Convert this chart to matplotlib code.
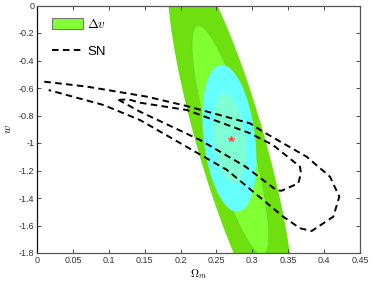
import numpy as np
import matplotlib
matplotlib.use("Agg")
import matplotlib.pyplot as plt
from matplotlib.patches import Patch
from matplotlib.lines import Line2D

plt.rcParams['font.family'] = ['Liberation Sans', 'DejaVu Sans']
plt.rcParams['mathtext.fontset'] = 'cm'

# Delta v ellipses (Gaussian approx): center, sigma along w, sigma across, slope dOm/dw
dv_center = (0.2694, -0.98)
dv_sig_w = 0.55
dv_sig_x = 0.0197
dv_slope = -0.0532

# combined ellipses
cb_center = (0.268, -0.966)
cb_sig_w = 0.215
cb_sig_x = 0.0145
cb_slope = -0.020

chi2_levels = [2.30, 6.17]  # 1 sigma, 2 sigma

best_fit = (0.27, -0.97)

# SN contours (Omega_m, w)
sn_outer_om = [0.0102, 0.0697, 0.1532, 0.2086, 0.2967, 0.3149, 0.3757, 0.4082, 0.4212,
               0.4128, 0.3827, 0.3664, 0.3431, 0.2647, 0.2229, 0.1435, 0.0929, 0.0163]
sn_outer_w = [-0.554, -0.590, -0.663, -0.731, -0.857, -0.918, -1.100, -1.245, -1.390,
              -1.536, -1.640, -1.620, -1.536, -1.196, -1.071, -0.833, -0.724, -0.615]

sn_inner_om = [0.1138, 0.127, 0.1435, 0.2086, 0.2967, 0.3288, 0.3664, 0.3678, 0.364,
               0.3409, 0.334, 0.29, 0.2271, 0.1435, 0.1138]
sn_inner_w = [-0.687, -0.682, -0.707, -0.760, -0.929, -1.015, -1.172, -1.220, -1.293,
              -1.347, -1.345, -1.17, -0.978, -0.772, -0.687]

xticks = [0, 0.05, 0.1, 0.15, 0.2, 0.25, 0.3, 0.35, 0.4, 0.45]
yticks = [0, -0.2, -0.4, -0.6, -0.8, -1, -1.2, -1.4, -1.6, -1.8]


def ellipse(center, sig_w, sig_x, slope, k):
    t = np.linspace(0, 2 * np.pi, 300)
    dw = sig_w * np.sqrt(k) * np.sin(t)
    dx = slope * dw + sig_x * np.sqrt(k) * np.cos(t)
    return center[0] + dx, center[1] + dw


fig = plt.figure(figsize=(3.74, 2.81), dpi=100)
ax = fig.add_axes([37 / 374, 1 - 253 / 281, 323 / 374, 247.5 / 281])

x, y = ellipse(dv_center, dv_sig_w, dv_sig_x, dv_slope, chi2_levels[1])
ax.fill(x, y, color='#6EE010', lw=0)
x, y = ellipse(dv_center, dv_sig_w, dv_sig_x, dv_slope, chi2_levels[0])
ax.fill(x, y, facecolor='#80FF33', edgecolor='#66D820', lw=0.6)
x, y = ellipse(cb_center, cb_sig_w, cb_sig_x, cb_slope, chi2_levels[1])
ax.fill(x, y, color='#66FFFF', lw=0)
x, y = ellipse(cb_center, cb_sig_w, cb_sig_x, cb_slope, chi2_levels[0])
ax.fill(x, y, color='#7FFFD4', lw=0)

ax.plot(best_fit[0], best_fit[1], marker='*', color='red', ms=4, mec='#ff6060')

dash = (0, (3.4, 2.2))
ax.plot(sn_outer_om, sn_outer_w, color='k', lw=1.4, ls=dash)
ax.plot(sn_inner_om, sn_inner_w, color='k', lw=1.4, ls=dash)

ax.set_xlim(0, 0.45)
ax.set_ylim(-1.8, 0)
ax.set_xticks(xticks)
ax.set_xticklabels(['%g' % v for v in xticks])
ax.set_yticks(yticks)
ax.set_yticklabels(['%g' % v for v in yticks])
ax.tick_params(direction='in', length=3, width=0.6, labelsize=6.5, pad=2,
               top=True, right=True, colors='#333333')
for s in ax.spines.values():
    s.set_color('#555555')
    s.set_linewidth(0.9)
ax.spines['left'].set_color('#111111')

ax.set_xlabel(r'$\Omega_m$', fontsize=8, labelpad=2)
ax.set_ylabel(r'$w$', fontsize=8, labelpad=4)

handles = [Patch(facecolor='#80FF33', edgecolor='#777777', lw=0.8),
           Line2D([], [], color='k', lw=1.4, ls=dash)]
leg = ax.legend(handles, [r'$\Delta v$', 'SN'], loc='upper left',
                bbox_to_anchor=(0.045, 0.95), frameon=False, fontsize=9.5,
                handlelength=2.4, handleheight=0.85, labelspacing=1.05,
                handletextpad=0.3, borderpad=0, borderaxespad=0)

fig.savefig('out.png', dpi=100)
